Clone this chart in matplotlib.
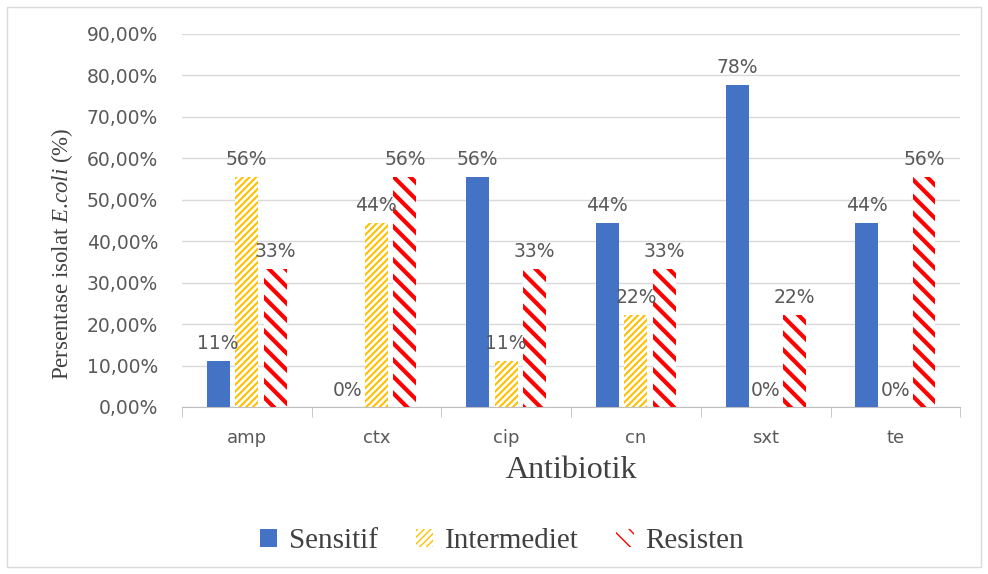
import matplotlib
matplotlib.use("Agg")
import matplotlib.pyplot as plt
import numpy as np
from matplotlib.patches import Rectangle
from matplotlib.ticker import FuncFormatter, FixedLocator

plt.rcParams["mathtext.fontset"] = "custom"
plt.rcParams["mathtext.rm"] = "Liberation Serif"
plt.rcParams["mathtext.it"] = "Liberation Serif:italic"

antibiotik = ["amp", "ctx", "cip", "cn", "sxt", "te"]
sensitif = [11.11, 0.0, 55.56, 44.44, 77.78, 44.44]
intermediet = [55.56, 44.44, 11.11, 22.22, 0.0, 0.0]
resisten = [33.33, 55.56, 33.33, 33.33, 22.22, 55.56]

grey = "#595959"
fig = plt.figure(figsize=(9.88, 5.74), dpi=100)
ax = fig.add_axes([0.184, 0.291, 0.788, 0.650])

x = np.arange(len(antibiotik))
w = 0.177
step = 0.22

b1 = ax.bar(x - step, sensitif, w, color="#4472C4", label="Sensitif", zorder=3)
b2 = ax.bar(x, intermediet, w, facecolor="white", edgecolor="#FFC000",
            hatch="/////", linewidth=0, label="Intermediet", zorder=3)
b3 = ax.bar(x + step, resisten, w, facecolor="white", edgecolor="#FF0000",
            hatch="\\\\", linewidth=0, label="Resisten", zorder=3)
for bars, lw in [(b2, 1.5), (b3, 3.0)]:
    for p in bars:
        try:
            p.set_hatch_linewidth(lw)
        except AttributeError:
            plt.rcParams["hatch.linewidth"] = lw

for bars, vals in [(b1, sensitif), (b2, intermediet), (b3, resisten)]:
    for p, v in zip(bars, vals):
        ax.text(p.get_x() + p.get_width() / 2, v + 1.8, f"{v:.0f}%",
                ha="center", va="bottom", fontsize=13.5, color=grey, zorder=4)

ax.set_ylim(0, 90)
ax.set_xlim(-0.5, len(antibiotik) - 0.5)
ax.set_yticks(np.arange(0, 91, 10))
ax.yaxis.set_major_formatter(FuncFormatter(lambda v, _: f"{v:.2f}%".replace(".", ",")))
ax.set_xticks(x)
ax.set_xticklabels(antibiotik)
ax.xaxis.set_minor_locator(FixedLocator(np.arange(-0.5, len(antibiotik), 1.0)))
ax.tick_params(axis="x", which="major", length=0, labelsize=13, labelcolor=grey, pad=16)
ax.tick_params(axis="x", which="minor", length=7, color="#BFBFBF")
ax.tick_params(axis="y", length=0, labelsize=13.5, labelcolor=grey, pad=17)
ax.grid(axis="y", color="#D9D9D9", linewidth=1, zorder=0)
for s in ["top", "right", "left"]:
    ax.spines[s].set_visible(False)
ax.spines["bottom"].set_color("#BFBFBF")

ax.set_xlabel("Antibiotik", family="Liberation Serif", fontsize=23, color="#404040", labelpad=6)
ax.set_ylabel("Persentase isolat $\\mathit{E}$.$\\mathit{coli}$ (%)", family="Liberation Serif",
              fontsize=16.5, color="#404040")
ax.yaxis.set_label_coords(-0.137, 0.41)

leg = fig.legend(handles=[b1, b2, b3], loc="center", bbox_to_anchor=(0.508, 0.057),
                 ncol=3, frameon=False, prop={"family": "Liberation Serif", "size": 21},
                 handlelength=0.6, handleheight=0.6, handletextpad=0.4, columnspacing=1.3)
for t in leg.get_texts():
    t.set_color("#404040")

fig.add_artist(Rectangle((0.007, 0.012), 0.986, 0.975, transform=fig.transFigure,
                         fill=False, edgecolor="#D9D9D9", linewidth=1))

fig.savefig("out.png", dpi=100)
